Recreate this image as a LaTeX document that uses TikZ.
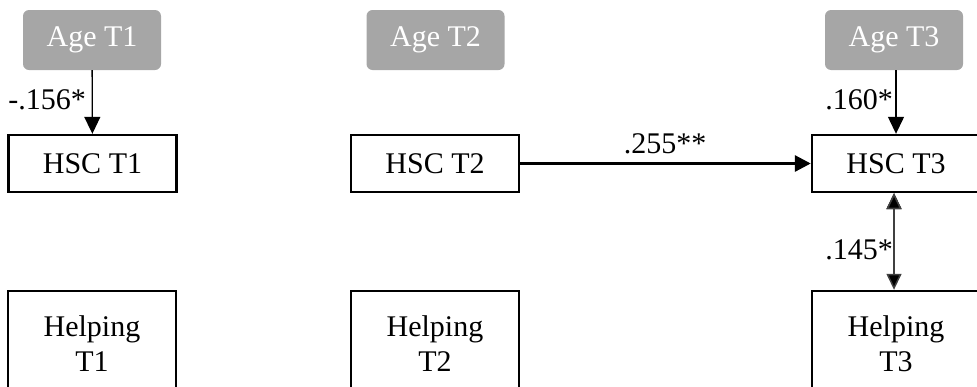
\documentclass[tikz,border=0pt]{standalone}
\usepackage{fontspec}
\setmainfont{Liberation Serif}
\usetikzlibrary{arrows.meta}
\usetikzlibrary{shapes}

\begin{document}
\begin{tikzpicture}[x=1pt,y=-1pt]

\tikzstyle{measure}=[rectangle, draw=black, line width=2.4pt, minimum width=168pt, minimum height=57pt, inner sep=0pt, font=\fontsize{30}{35}\selectfont]
\tikzstyle{helping}=[measure, minimum height=106pt, align=center]
\tikzstyle{age}=[rectangle, rounded corners=6pt, fill=agegray, minimum width=138pt, minimum height=60pt, inner sep=0pt, text=white, font=\fontsize{30}{35}\selectfont]
\tikzstyle{coef}=[inner sep=0pt, font=\fontsize{30}{35}\selectfont]

\tikzstyle{connect}=[-{Triangle[width=16pt,length=17pt]}, line width=1.3pt]
\tikzstyle{strong}=[-{Triangle[width=16pt,length=16pt]}, line width=3pt]
\tikzstyle{corr}=[{Triangle[width=15pt,length=16pt]}-{Triangle[width=15pt,length=16pt]}, line width=1.5pt, draw=black!75]

\definecolor{agegray}{RGB}{166,166,166}

\useasboundingbox (0,0) rectangle (977,386);

\node[age] (age1) at (92,40)  {Age T1};
\node[age] (age2) at (435.5,40)  {Age T2};
\node[age] (age3) at (894,40)  {Age T3};

\node[measure] (hsc1) at (92.5,163.5)  {HSC T1};
\node[measure] (hsc2) at (435,163.5)  {HSC T2};
\node[measure] (hsc3) at (896,163.5)  {HSC T3};

\node[helping] (help1) at (92,344)  {Helping\\T1};
\node[helping] (help2) at (435,344)  {Helping\\T2};
\node[helping] (help3) at (896,344)  {Helping\\T3};

\node[coef, anchor=east] (c1) at (86,100)  {-.156*};
\node[coef, anchor=east] (c3) at (893,100)  {.160*};
\node[coef] (c23) at (665,144)  {.255**};
\node[coef, anchor=east] (r3) at (893,250)  {.145*};

\path (age1) [connect]  edge (hsc1);
\path (age3.south -| hsc3.north) [connect]  edge (hsc3);

\path (hsc2) [strong]  edge (hsc3);

\path (hsc3.south -| age3.south) [corr]  edge (help3.north -| age3.south);

\end{tikzpicture}
\end{document}
